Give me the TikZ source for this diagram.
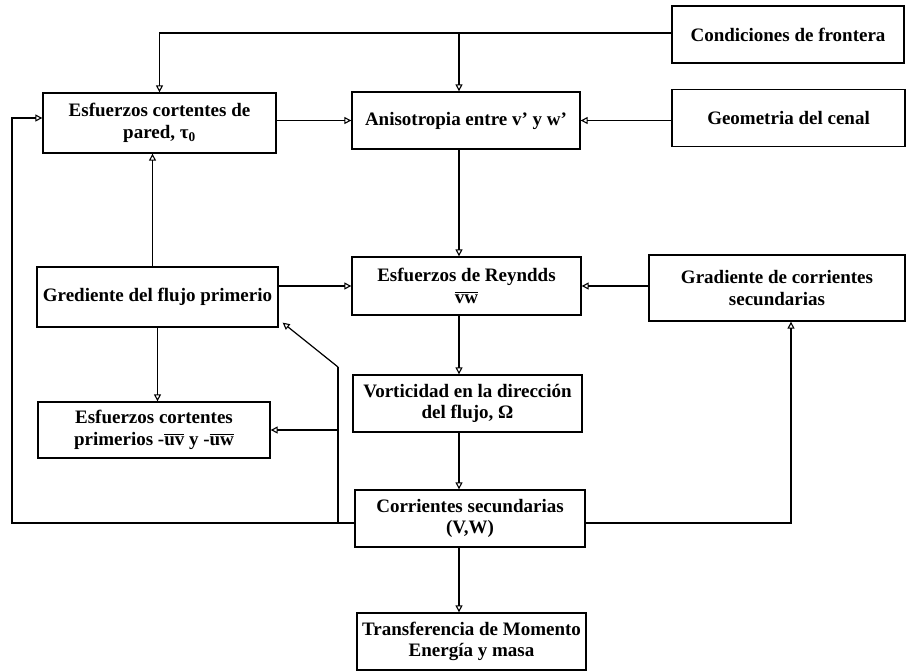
\documentclass[tikz,border=0pt]{standalone}
\usepackage{fontspec}
\setmainfont{Liberation Serif}
\usepackage{tikz}
\usetikzlibrary{arrows.meta, positioning, calc}
\newcommand{\barred}[1]{\leavevmode\vbox{\hrule height 1.2pt\kern1.8pt\hbox{#1}}}

\begin{document}
\begin{tikzpicture}[
    x=1pt, y=-1pt,
    block/.style={rectangle, draw=black, fill=white, line width=1.3pt, inner sep=2pt, align=center,
        minimum width=230pt, minimum height=57pt, font=\bfseries\fontsize{19}{21.5}\selectfont},
    arrow/.style={line width=1.2pt, -{Triangle[open, length=7pt, width=7pt, line width=1.1pt]}},
    link/.style={line width=1.2pt}
]
    \useasboundingbox (0,0) rectangle (924,672);

    % boxes
    \node[block, minimum width=232pt] (cond) at (788, 34.5) {Condiciones de frontera};
    \node[block, minimum width=233pt, minimum height=60pt] (wall) at (159.5, 123) {Esfuerzos cortentes de\\pared, τ\textsubscript{0}};
    \node[block, minimum width=228pt] (aniso) at (466, 120.5) {Anisotropia entre v' y w'};
    \node[block, minimum width=233pt] (geom) at (788.5, 118) {Geometria del cenal};
    \node[block, minimum width=241pt, minimum height=60pt] (grad) at (157.5, 297) {Grediente del flujo primerio};
    \node[block, minimum width=229pt, minimum height=58pt] (reyn) at (466.5, 286) {Esfuerzos de Reyndds\\\barred{vw}};
    \node[block, minimum width=256pt, minimum height=66pt] (gradsec) at (777, 288) {Gradiente de corrientes\\secundarias};
    \node[block, minimum width=229pt] (vort) at (467.5, 403.5) {Vorticidad en la dirección\\del flujo, Ω};
    \node[block, minimum width=232pt, minimum height=56pt] (esfprim) at (154, 430) {Esfuerzos cortentes\\primerios -\barred{uv} y -\barred{uw}};
    \node[block] (corr) at (470, 518.5) {Corrientes secundarias\\(V,W)};
    \node[block, minimum width=229pt] (transf) at (471.5, 641.5) {Transferencia de Momento\\Energía y masa};

    % helper points
    \coordinate (top) at (0, 33);
    \coordinate (spine) at (459, 0);
    \coordinate (lft) at (12, 523);
    \coordinate (jn) at (338, 523);
    \coordinate (bend) at (338, 367);

    % connectors
    \draw[arrow] (cond.west |- top) -| (wall.north);
    \draw[arrow] (spine |- top) -- (spine |- aniso.north);
    \draw[arrow] (wall.east |- aniso.west) -- (aniso.west);
    \draw[arrow] (geom.west |- aniso.east) -- (aniso.east);
    \draw[arrow] (spine |- aniso.south) -- (spine |- reyn.north);
    \draw[arrow] ([xshift=-7pt]wall.south |- grad.north) -- ([xshift=-7pt]wall.south);
    \draw[arrow] (grad.east |- reyn.west) -- (reyn.west);
    \draw[arrow] (gradsec.west |- reyn.east) -- (reyn.east);
    \draw[arrow] (spine |- reyn.south) -- (spine |- vort.north);
    \draw[arrow] (grad.south) -- (esfprim.north -| grad.south);
    \draw[arrow] (spine |- vort.south) -- (spine |- corr.north);
    \draw[arrow] (spine |- corr.south) -- (spine |- transf.north);
    \draw[arrow] (corr.west |- jn) -- (lft) |- ([yshift=5pt]wall.west);
    \draw[arrow] (jn |- esfprim.east) -- (esfprim.east);
    \draw[link] (jn) -- (bend);
    \draw[arrow] (bend) -- ([xshift=4pt, yshift=5pt]grad.south east);
    \draw[arrow] (corr.east |- jn) -| ([xshift=14pt]gradsec.south);
\end{tikzpicture}
\end{document}
